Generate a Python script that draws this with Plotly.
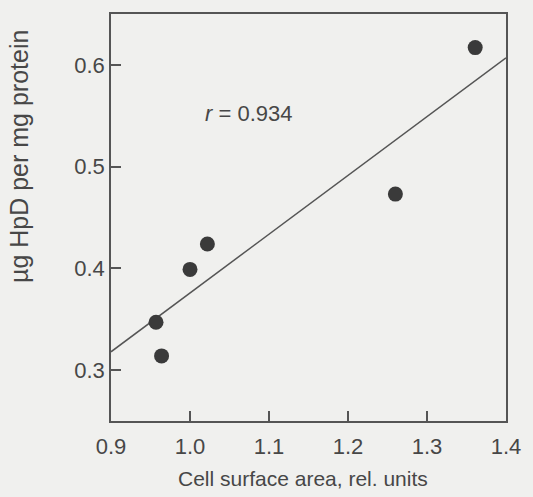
import plotly.graph_objects as go

# Data
cell_area = [0.957, 0.964, 1.000, 1.022, 1.260, 1.361]
hpd_uptake = [0.347, 0.314, 0.399, 0.424, 0.473, 0.617]

# Regression line endpoints
fit_x = [0.9, 1.4]
fit_y = [0.318, 0.607]

x_ticks = [0.9, 1.0, 1.1, 1.2, 1.3, 1.4]
y_ticks = [0.3, 0.4, 0.5, 0.6]

r_label = "<i>r</i> = 0.934"
x_title = "Cell surface area, rel. units"
y_title = "µg HpD per mg protein"

ink = "#474747"
bg = "#f0f0ee"
font_family = "Liberation Sans, Arial, Helvetica, sans-serif"

fig = go.Figure()
fig.add_trace(go.Scatter(
    x=fit_x, y=fit_y, mode="lines",
    line=dict(color="#555555", width=1.5),
    showlegend=False, hoverinfo="skip",
))
fig.add_trace(go.Scatter(
    x=cell_area, y=hpd_uptake, mode="markers",
    marker=dict(color="#3a3a3a", size=15),
    showlegend=False,
))

fig.add_annotation(
    x=1.0745, y=0.552, xref="x", yref="y",
    text=r_label, showarrow=False,
    font=dict(family=font_family, size=22, color=ink),
)
# axis titles placed as annotations (y title sits above the plot centre)
fig.add_annotation(
    x=(16 - 111) / 405, y=(421 - 156) / 408, xref="x domain", yref="y domain",
    text=y_title, showarrow=False, textangle=-90,
    xanchor="center", yanchor="middle",
    font=dict(family=font_family, size=25, color=ink),
)
fig.add_annotation(
    x=0.485, y=(421 - 479) / 408, xref="x domain", yref="y domain",
    text=x_title, showarrow=False,
    xanchor="center", yanchor="middle",
    font=dict(family=font_family, size=21, color=ink),
)

axis_common = dict(
    showline=True, mirror=True, linecolor="#555555", linewidth=1.5,
    ticks="inside", ticklen=10, tickwidth=1.5, tickcolor="#555555",
    showgrid=False, zeroline=False,
    tickfont=dict(family=font_family, size=22, color=ink),
    tickformat=".1f",
)

fig.update_xaxes(range=[0.9, 1.4], tickvals=x_ticks, ticklabelstandoff=5, **axis_common)
fig.update_yaxes(range=[0.25, 0.65], tickvals=y_ticks, **axis_common)

fig.update_layout(
    width=533, height=497,
    margin=dict(l=111, r=17, t=13, b=76),
    paper_bgcolor=bg, plot_bgcolor=bg,
)

fig.write_html(
    "out.html",
    config={"displayModeBar": False},
    post_script="document.body.style.margin='0px';",
)
